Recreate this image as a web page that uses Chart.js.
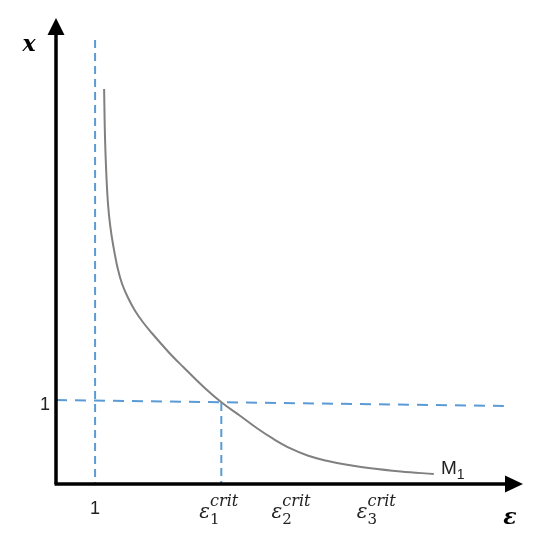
<!DOCTYPE html>
<html><head><meta charset="utf-8">
<script src="https://cdn.jsdelivr.net/npm/chart.js@4"></script>
<style>html,body{margin:0;padding:0;background:#fff}#wrap{width:541px;height:550px}</style>
</head><body><div id="wrap"><canvas id="c" width="541" height="550"></canvas></div>
<script>
// Curve M1 (epsilon, x)
const curveEps = [1.231,1.256,1.295,1.333,1.385,1.462,1.577,1.692,1.846,2.026,2.231,2.462,2.718,2.974,3.256,3.821,4.256,4.718,5.154,5.564,6.000,6.436,6.897,7.410,8.051,8.821,9.667];
const curveX   = [4.702,4.095,3.619,3.321,3.083,2.845,2.571,2.381,2.214,2.060,1.923,1.792,1.655,1.524,1.393,1.137,0.964,0.810,0.661,0.536,0.423,0.339,0.280,0.232,0.187,0.149,0.119];
// reference lines
const vLineOneEps = [1, 1];
const vLineOneX = [5.286, 0];
const vLineCritEps = [4.23, 4.23];
const vLineCritX = [0.964, 0];
const hLineEps = [0, 11.46];
const hLineX = [1.0, 0.929];
// tick labels
const xTickValues = [1, 4.23, 6.08, 8.26];
const xTickLabels = ['1', '1', '2', '3']; // first is plain "1", others are ε subscripts
const yTickValues = [1];
const yTickLabels = ['1'];
const axisMax = {eps: 11.95, x: 5.548};

const pts = (a, b) => a.map((v, i) => ({x: v, y: b[i]}));
const blue = '#5b9bd5';

const overlay = {
  id: 'overlay',
  afterDatasetsDraw(chart) {
    const ctx = chart.ctx, xs = chart.scales.x, ys = chart.scales.y;
    const x0 = xs.getPixelForValue(0), y0 = ys.getPixelForValue(0);
    const xEnd = xs.getPixelForValue(axisMax.eps), yEnd = ys.getPixelForValue(axisMax.x);
    ctx.save();
    ctx.strokeStyle = '#000'; ctx.fillStyle = '#000'; ctx.lineWidth = 3.5; ctx.setLineDash([]);
    ctx.beginPath(); ctx.moveTo(x0, y0); ctx.lineTo(x0, yEnd + 14); ctx.stroke();
    ctx.beginPath(); ctx.moveTo(x0 - 1.5, y0); ctx.lineTo(xEnd - 16, y0); ctx.stroke();
    ctx.beginPath(); ctx.moveTo(x0, yEnd); ctx.lineTo(x0 - 8.5, yEnd + 17); ctx.lineTo(x0 + 8.5, yEnd + 17); ctx.closePath(); ctx.fill();
    ctx.beginPath(); ctx.moveTo(xEnd, y0); ctx.lineTo(xEnd - 18, y0 - 8.5); ctx.lineTo(xEnd - 18, y0 + 8.5); ctx.closePath(); ctx.fill();

    // x tick labels
    ctx.fillStyle = '#222'; ctx.textBaseline = 'alphabetic';
    xTickValues.forEach((v, i) => {
      const px = xs.getPixelForValue(v);
      if (i === 0) {
        ctx.font = '18px "Liberation Sans", sans-serif'; ctx.textAlign = 'center';
        ctx.fillText(xTickLabels[i], px, 514);
      } else {
        ctx.textAlign = 'left';
        ctx.font = 'italic 20px "DejaVu Serif", serif';
        const w = ctx.measureText('ε').width;
        const left = px - 22;
        ctx.fillText('ε', left, 518);
        ctx.font = '15px "DejaVu Serif", serif';
        ctx.fillText(xTickLabels[i], left + w, 524);
        ctx.font = 'italic 16px "DejaVu Serif", serif';
        ctx.fillText('crit', left + w, 506);
      }
    });
    yTickValues.forEach((v, i) => {
      ctx.font = '18px "Liberation Sans", sans-serif'; ctx.textAlign = 'center';
      ctx.fillText(yTickLabels[i], 45, ys.getPixelForValue(v) + 10);
    });
    // axis titles
    ctx.fillStyle = '#000';
    ctx.font = 'bold italic 22px "DejaVu Serif", serif'; ctx.textAlign = 'center';
    ctx.fillText('x', 29, 51);
    ctx.fillText('ε', 510, 524);
    // M1 label
    ctx.fillStyle = '#222';
    ctx.font = '19px "Liberation Sans", sans-serif'; ctx.textAlign = 'left';
    ctx.fillText('M', 441, 474);
    const mw = ctx.measureText('M').width;
    ctx.font = '14px "Liberation Sans", sans-serif';
    ctx.fillText('1', 441 + mw, 479);
    ctx.restore();
  }
};

new Chart(document.getElementById('c'), {
  type: 'scatter',
  data: {
    datasets: [
      {data: pts(vLineOneEps, vLineOneX), showLine: true, borderColor: blue, borderWidth: 2, borderDash: [8, 5], pointRadius: 0},
      {data: pts(vLineCritEps, vLineCritX), showLine: true, borderColor: blue, borderWidth: 2, borderDash: [8, 5], pointRadius: 0},
      {data: pts(hLineEps, hLineX), showLine: true, borderColor: blue, borderWidth: 2, borderDash: [11, 8], pointRadius: 0},
      {data: pts(curveEps, curveX), showLine: true, borderColor: '#808080', borderWidth: 2, pointRadius: 0, tension: 0.4}
    ]
  },
  options: {
    responsive: false, animation: false,
    layout: {padding: {left: 56, right: 18, top: 18, bottom: 66}},
    plugins: {legend: {display: false}, tooltip: {enabled: false}},
    scales: {
      x: {type: 'linear', min: 0, max: axisMax.eps, display: false},
      y: {type: 'linear', min: 0, max: axisMax.x, display: false}
    }
  },
  plugins: [overlay]
});
</script></body></html>
